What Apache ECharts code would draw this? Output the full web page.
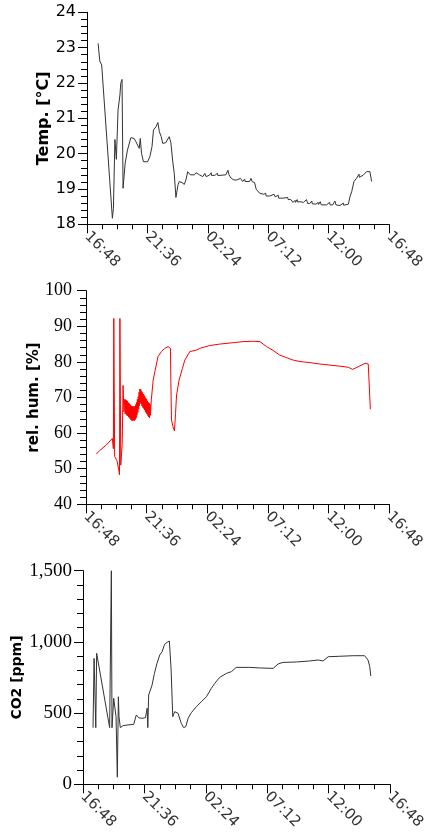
<!DOCTYPE html>
<html><head><meta charset="utf-8">
<script src="https://cdn.jsdelivr.net/npm/echarts@6/dist/echarts.min.js"></script>
<style>html,body{margin:0;padding:0;background:#fff}#c{width:426px;height:838px}</style>
</head><body><div id="c"></div>
<script>
// x axis tick labels (clock times, 4h48m apart, starting 16:48)
const xTickLabels = ["16:48","21:36","02:24","07:12","12:00","16:48"];

// Temperature [°C]
const tempTimes = ["17:41","17:49","17:58","18:49","18:54","19:01","19:08","19:16","19:25","19:29","19:35","19:40","19:50","20:01","20:17","20:33","20:41","20:57","21:02","21:08","21:17","21:37","21:48","21:58","22:05","22:17","22:26","22:33","22:42","22:49","23:04","23:13","23:20","23:28","23:36","23:44","23:52","00:02","00:08","00:21","00:32","00:40","00:48","01:00","01:04","01:20","01:28","01:44","02:00","02:10","02:16","02:32","02:40","02:42","03:00","03:10","03:12","03:20","03:50","04:00","04:05","04:16","04:25","04:27","04:40","05:00","05:10","05:20","05:22","05:43","05:50","05:55","06:07","06:15","06:31","06:50","07:00","07:02","07:19","07:40","07:45","08:00","08:02","08:23","08:30","08:45","08:47","09:00","09:10","09:20","09:22","09:30","09:32","09:43","10:00","10:15","10:20","10:30","10:40","10:42","11:00","11:10","11:12","11:20","11:25","11:50","12:05","12:07","12:20","12:30","12:35","12:54","13:10","13:12","13:20","13:34","13:42","13:50","14:01","14:13","14:25","14:27","14:45","15:01","15:05","15:07","15:17","15:25"];
const tempValues = [23.12,22.62,22.51,18.17,18.45,20.40,19.84,21.23,21.66,21.99,22.10,19.02,19.73,20.10,20.45,20.43,20.34,20.15,20.43,20.01,19.77,19.77,19.92,20.20,20.67,20.76,20.88,20.62,20.48,20.29,20.31,20.29,20.48,20.31,19.82,19.44,18.76,19.12,19.21,19.18,19.13,19.26,19.49,19.40,19.44,19.40,19.46,19.40,19.35,19.44,19.35,19.39,19.46,19.38,19.39,19.45,19.38,19.39,19.40,19.53,19.40,19.30,19.35,19.26,19.25,19.30,19.21,19.28,19.21,19.21,19.30,19.21,19.18,18.99,18.88,18.85,18.88,18.80,18.80,18.85,18.78,18.82,18.74,18.74,18.70,18.76,18.70,18.70,18.62,18.68,18.62,18.70,18.63,18.64,18.62,18.70,18.59,18.59,18.66,18.58,18.57,18.62,18.56,18.64,18.55,18.55,18.62,18.55,18.55,18.66,18.55,18.53,18.60,18.54,18.55,18.57,18.78,18.92,19.21,19.30,19.42,19.33,19.39,19.49,19.53,19.46,19.49,19.21];

// Relative humidity [%]
const humTimes = ["17:37","17:53","18:25","18:53","18:58","19:00","19:02","19:04","19:12","19:16","19:24","19:27","19:29","19:31","19:33","19:40","19:44","19:48",
"19:52","19:54","19:56","19:58","20:00","20:02","20:04","20:06","20:08","20:10","20:12","20:14","20:16","20:18","20:20","20:22","20:24","20:26","20:28","20:30","20:32","20:34","20:36","20:38","20:40","20:42","20:44","20:46","20:48","20:50","20:52","20:54","20:56","20:58","21:00","21:02","21:04","21:06","21:08","21:10","21:12","21:14","21:16","21:18","21:20","21:22","21:24","21:26","21:28","21:30","21:32","21:34","21:36","21:38","21:40","21:42","21:44","21:46","21:48","21:50","21:52","21:54",
"21:58","22:07","22:15","22:30","22:46","23:02","23:18","23:29","23:31","23:34","23:41","23:48","23:53","23:58","00:10","00:26","00:37","01:01","01:32","01:48","02:36","03:23","04:27","05:14","06:02","06:34","07:05","07:37","08:08","08:40","09:12","09:44","10:31","11:19","12:06","12:54","13:33","13:54","14:05","14:29","14:53","15:08","15:16","15:18"];
const humValues = [54.1,55.1,56.7,58.5,55.6,92.2,92.2,53.5,52.6,52.0,49.5,48.3,92.2,92.2,51.0,57.0,73.4,66.0,
69.5,65.4,69.4,65.3,69.2,65.0,69.0,64.8,68.6,64.5,68.4,64.3,68.2,64.0,67.8,63.7,67.6,63.5,67.5,63.5,67.5,63.6,67.5,63.5,67.5,63.8,68.0,64.2,68.6,65.0,69.5,65.8,70.2,66.8,71.5,67.7,72.4,68.4,72.3,68.2,71.8,67.6,71.4,67.2,71.0,66.9,70.6,66.5,70.2,66.0,69.8,65.6,69.5,65.3,69.0,64.9,68.6,64.5,68.4,64.3,68.2,65.0,
69.3,74.9,77.3,81.5,82.9,83.8,84.3,83.8,74.0,63.7,61.8,60.6,65.5,70.7,74.9,78.2,80.5,82.9,83.3,83.8,84.6,85.0,85.4,85.7,85.8,85.7,84.3,83.2,81.9,81.2,80.5,80.1,79.8,79.4,79.1,78.8,78.5,77.9,78.2,78.9,79.6,79.4,79.6,66.7];

// CO2 [ppm]
const co2Times = ["17:35","17:40","17:48","17:52","17:57","18:53","18:56","19:01","19:04","19:12","19:17","19:23","19:29","19:34","19:37","19:43","19:56","20:14","20:46","20:55","20:58","21:09","21:25","21:41","21:49","21:52","21:56","22:04","22:12","22:23","22:35","22:48","22:59","23:11","23:22","23:33","23:38","23:41","23:47","23:49","23:58","00:14","00:29","00:40","00:50","01:01","01:16","01:40","02:03","02:27","02:50","03:06","03:29","04:01","04:24","04:47","05:50","06:37","07:40","08:03","08:26","09:29","10:31","11:11","11:34","11:58","12:52","13:55","14:49","14:57","15:05","15:13","15:18"];
const co2Values = [398,884,398,920,927,398,394,1500,397,604,604,475,50,615,475,398,412,416,421,421,487,468,463,468,534,398,627,627,697,779,849,908,932,983,997,1006,997,815,802,475,510,498,428,398,405,463,503,545,580,615,674,709,751,779,791,821,821,817,814,845,856,859,866,873,866,896,899,903,903,896,873,826,760];

function toMin(s){const [h,m]=s.split(':').map(Number);return ((h*60+m)-1008+1440)%1440;}
function pairs(t,v){return t.map((s,i)=>[toMin(s),v[i]]);}
function fmt(v){
  const idx=Math.round(v/288);
  if(Math.abs(v-idx*288)<0.5 && xTickLabels[idx]) return xTickLabels[idx];
  const t=(1008+v)%1440;return String(Math.floor(t/60)).padStart(2,'0')+':'+String(t%60).padStart(2,'0');
}

const grids=[
  {left:87,top:12.3,width:302,height:212},
  {left:86,top:290.7,width:303.3,height:213.6},
  {left:83,top:570.7,width:307,height:213.6}
];
const xAxes=grids.map((g,i)=>({
  type:'value',gridIndex:i,min:0,max:1440,interval:288,
  axisLine:{show:true,onZero:false,lineStyle:{color:'#000',width:1}},
  axisTick:{show:true,length:9,lineStyle:{color:'#000'}},
  minorTick:{show:true,splitNumber:4,length:5,lineStyle:{color:'#000'}},
  splitLine:{show:false},
  axisLabel:{show:true,rotate:-45,margin:10,formatter:fmt,color:'#333',fontFamily:'DejaVu Sans',fontSize:15,showMinLabel:true,showMaxLabel:true,hideOverlap:false}
}));
const yCommon={type:'value',axisLine:{show:true,lineStyle:{color:'#000'}},axisTick:{show:true,length:9,lineStyle:{color:'#000'}},splitLine:{show:false},nameLocation:'middle',nameRotate:90,nameMoveOverlap:false};
const yAxes=[
  Object.assign({},yCommon,{gridIndex:0,min:18,max:24,interval:1,minorTick:{show:true,splitNumber:5,length:6,lineStyle:{color:'#000'}},
    axisLabel:{margin:11,color:'#000',fontFamily:'DejaVu Sans',fontSize:16,showMinLabel:true,showMaxLabel:true},
    name:'Temp. [°C]',nameGap:35,nameTextStyle:{fontFamily:'DejaVu Sans',fontWeight:'bold',fontSize:16,color:'#000'}}),
  Object.assign({},yCommon,{gridIndex:1,min:40,max:100,interval:10,minorTick:{show:true,splitNumber:5,length:6,lineStyle:{color:'#000'}},
    axisLabel:{margin:14,color:'#000',fontFamily:'Liberation Serif',fontSize:18,showMinLabel:true,showMaxLabel:true},
    name:'rel. hum. [%]',nameGap:44,nameTextStyle:{fontFamily:'DejaVu Sans',fontWeight:'bold',fontSize:15,color:'#000'}}),
  Object.assign({},yCommon,{gridIndex:2,min:0,max:1500,interval:500,minorTick:{show:true,splitNumber:5,length:6,lineStyle:{color:'#000'}},
    axisLabel:{margin:11,color:'#000',fontFamily:'Liberation Serif',fontSize:19,showMinLabel:true,showMaxLabel:true,formatter:v=>v.toLocaleString('en-US')},
    name:'CO2 [ppm]',nameGap:59,nameTextStyle:{fontFamily:'DejaVu Sans',fontWeight:'bold',fontSize:14,color:'#000'}})
];
const lineBase={type:'line',showSymbol:false,symbol:'none',animation:false};
const chart=echarts.init(document.getElementById('c'),null,{renderer:'canvas'});
chart.setOption({
  animation:false,backgroundColor:'#fff',
  grid:grids.map(g=>Object.assign({containLabel:false,outerBoundsMode:'none'},g)),
  xAxis:xAxes,yAxis:yAxes,
  series:[
    Object.assign({},lineBase,{xAxisIndex:0,yAxisIndex:0,data:pairs(tempTimes,tempValues),lineStyle:{width:1,color:'#333'},itemStyle:{color:'#333'}}),
    Object.assign({},lineBase,{xAxisIndex:1,yAxisIndex:1,data:pairs(humTimes,humValues),lineStyle:{width:1,color:'#ff0000'},itemStyle:{color:'#ff0000'}}),
    Object.assign({},lineBase,{xAxisIndex:2,yAxisIndex:2,data:pairs(co2Times,co2Values),lineStyle:{width:1,color:'#333'},itemStyle:{color:'#333'}})
  ]
});
</script></body></html>
